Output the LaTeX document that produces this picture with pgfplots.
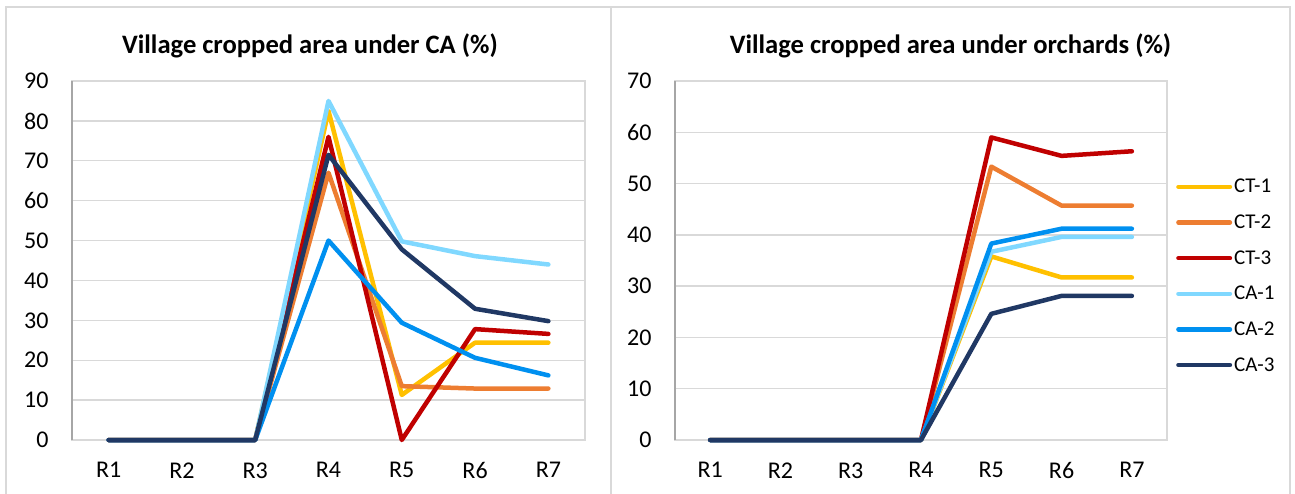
\documentclass[border=0pt]{standalone}
\usepackage{fontspec}
\setmainfont{Carlito}
\usepackage{pgfplots}
\pgfplotsset{compat=1.18}
\definecolor{ct1}{HTML}{FFC000}
\definecolor{ct2}{HTML}{ED7D31}
\definecolor{ct3}{HTML}{C00000}
\definecolor{ca1}{HTML}{80D8FF}
\definecolor{ca2}{HTML}{0090F0}
\definecolor{ca3}{HTML}{203864}
\definecolor{gridgray}{HTML}{D9D9D9}
\definecolor{spinegray}{HTML}{A6A6A6}
\pgfplotsset{
  panel/.style={
    anchor=south west,
    scale only axis,
    xmin=-0.5, xmax=6.5,
    xtick={0,1,2,3,4,5,6},
    xticklabels={R1,R2,R3,R4,R5,R6,R7},
    ymajorgrids,
    grid style={gridgray, line width=1.3pt},
    major tick length=0pt,
    axis line style={draw=none},
    axis background/.style={draw=gridgray, line width=1.3pt},
    ticklabel style={font=\fontsize{24}{28}\selectfont, text=black},
    /pgf/number format/assume math mode=true,
    yticklabel style={xshift=-20pt},
    xticklabel style={yshift=-19pt},
    every axis plot/.append style={line width=4.5pt, line cap=round, line join=round, mark=none},
    clip=false,
  },
}
\begin{document}
\begin{tikzpicture}[x=1pt,y=1pt]
\useasboundingbox (0,0) rectangle (1295,493);
\draw[gridgray, line width=1.3pt] (6,-5) -- (6,486) -- (1290,486) -- (1290,-5);
\draw[gridgray, line width=1.3pt] (611,-5) -- (611,486);
\node[font=\bfseries\fontsize{26.6}{30}\selectfont] at (310,447) {Village cropped area under CA (\%)};
\node[font=\bfseries\fontsize{26.6}{30}\selectfont] at (950.5,447) {Village cropped area under orchards (\%)};

\begin{axis}[panel, at={(72pt,53pt)}, width=513pt, height=359pt,
  ymin=0, ymax=90, ytick={0,10,...,90}]
\draw[spinegray, line width=1.5pt] (rel axis cs:0,0) -- (rel axis cs:0,1);
\addplot[ct1] coordinates {(0,0)(1,0)(2,0)(3,82.5)(4,11.3)(5,24.4)(6,24.4)};
\addplot[ct2] coordinates {(0,0)(1,0)(2,0)(3,67)(4,13.5)(5,12.9)(6,12.9)};
\addplot[ct3] coordinates {(0,0)(1,0)(2,0)(3,76)(4,0)(5,27.8)(6,26.6)};
\addplot[ca1] coordinates {(0,0)(1,0)(2,0)(3,85)(4,49.8)(5,46.1)(6,44)};
\addplot[ca2] coordinates {(0,0)(1,0)(2,0)(3,50)(4,29.4)(5,20.6)(6,16.2)};
\addplot[ca3] coordinates {(0,0)(1,0)(2,0)(3,71.5)(4,47.8)(5,32.9)(6,29.8)};
\end{axis}

\begin{axis}[panel, at={(675pt,53pt)}, width=492pt, height=359pt,
  ymin=0, ymax=70, ytick={0,10,...,70},
  legend style={draw=none, fill=none, at={(rel axis cs:1,0.457)}, anchor=west, xshift=7pt,
    font=\fontsize{21}{25}\selectfont, row sep=16.5pt, inner sep=2pt,
    /tikz/every even column/.append style={column sep=0pt}},
  legend cell align=left,
  legend image code/.code={\draw[#1, line width=4.5pt, line cap=round] (2.25pt,0pt) -- (53.75pt,0pt);},
  ]
\draw[spinegray, line width=1.5pt] (rel axis cs:0,0) -- (rel axis cs:0,1);
\addplot[ct1] coordinates {(0,0)(1,0)(2,0)(3,0)(4,35.8)(5,31.7)(6,31.7)};
\addplot[ct2] coordinates {(0,0)(1,0)(2,0)(3,0)(4,53.3)(5,45.7)(6,45.7)};
\addplot[ct3] coordinates {(0,0)(1,0)(2,0)(3,0)(4,59.0)(5,55.4)(6,56.3)};
\addplot[ca1] coordinates {(0,0)(1,0)(2,0)(3,0)(4,36.7)(5,39.6)(6,39.6)};
\addplot[ca2] coordinates {(0,0)(1,0)(2,0)(3,0)(4,38.3)(5,41.2)(6,41.2)};
\addplot[ca3] coordinates {(0,0)(1,0)(2,0)(3,0)(4,24.6)(5,28.1)(6,28.1)};
\legend{CT-1,CT-2,CT-3,CA-1,CA-2,CA-3}
\end{axis}
\end{tikzpicture}
\end{document}
